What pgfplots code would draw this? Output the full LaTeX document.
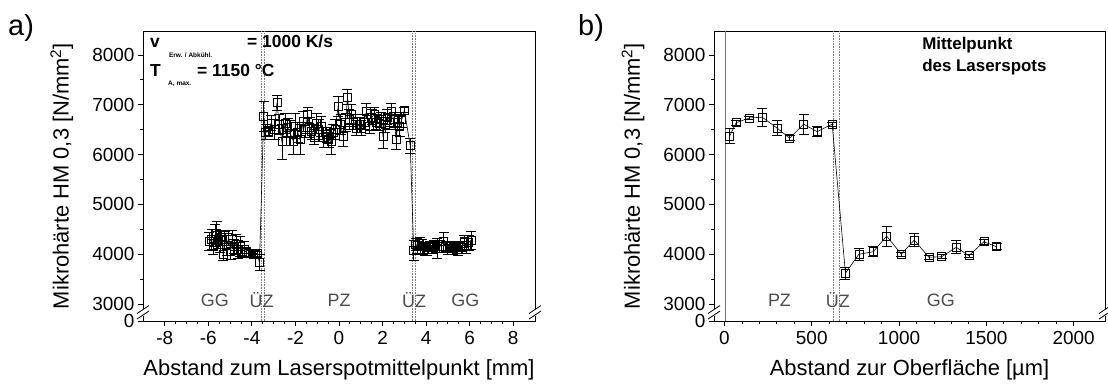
\documentclass[border=0pt]{standalone}
\usepackage{fontspec}
\setmainfont{Liberation Sans}
\usepackage{pgfplots}
\pgfplotsset{compat=1.18}
\usepackage{pgfplotstable}

\pgfplotstableread{
x y e
-5.95 4250 180
-5.85 4300 200
-5.78 4150 150
-5.70 4380 220
-5.62 4420 230
-5.55 4280 170
-5.47 4200 160
-5.40 4330 150
-5.32 4000 120
-5.25 4290 170
-5.15 4180 200
-5.06 4330 150
-4.98 4050 160
-4.90 4300 170
-4.82 4150 140
-4.73 4200 200
-4.65 4100 180
-4.55 4150 200
-4.45 4060 120
-4.35 4100 150
-4.25 4030 100
-4.15 4010 80
-4.05 4020 60
-3.95 4000 70
-3.85 4020 60
-3.75 4010 50
-3.65 3830 160
-3.46 6760 300
-3.36 6450 150
-3.26 6460 100
-3.11 6630 150
-2.96 6500 200
-2.85 7040 150
-2.74 6600 200
-2.62 6260 350
-2.47 6630 200
-2.36 6550 180
-2.24 6430 250
-2.09 6260 250
-2.01 6570 250
-1.90 6450 200
-1.79 6300 300
-1.64 6670 200
-1.54 6500 150
-1.44 6800 150
-1.35 6550 200
-1.26 6460 150
-1.14 6350 150
-1.03 6630 200
-0.93 6500 200
-0.83 6570 200
-0.70 6350 200
-0.57 6400 150
-0.47 6300 150
-0.37 6260 250
-0.28 6450 150
-0.19 6500 200
-0.04 6960 200
0.08 6600 200
0.19 6370 200
0.30 6650 180
0.39 7150 150
0.48 6700 200
0.57 6800 200
0.68 6650 150
0.80 6530 150
0.92 6600 150
1.03 6530 150
1.15 6650 150
1.26 6870 150
1.41 6570 150
1.50 6750 150
1.61 6800 150
1.72 6650 150
1.84 6630 150
1.93 6700 150
2.02 6370 250
2.11 6600 150
2.21 6750 150
2.30 6650 150
2.40 6870 150
2.52 6700 150
2.63 6300 200
2.70 6650 150
2.78 6570 200
2.88 6700 150
3.00 6890 50
3.27 6180 150
3.43 4085 200
3.52 4200 120
3.59 4170 150
3.70 4220 120
3.82 4150 150
3.93 4100 120
4.05 4090 120
4.16 4150 100
4.27 4130 120
4.38 4180 100
4.50 4110 200
4.62 4150 120
4.80 4250 180
4.90 4160 100
4.99 4110 120
5.10 4150 100
5.22 4120 120
5.33 4160 100
5.45 4100 120
5.55 4150 100
5.65 4130 120
5.75 4250 120
5.83 4170 150
5.95 4230 150
6.06 4280 180
}\dataA

\pgfplotstableread{
x y e
29 6370 150
67 6640 50
143 6735 30
216 6750 180
302 6530 150
373 6330 50
453 6610 200
531 6460 100
617 6610 40
693 3620 120
770 4000 120
852 4050 100
929 4365 200
1013 4000 40
1087 4285 130
1171 3940 40
1244 3950 40
1328 4140 130
1400 3970 30
1486 4250 50
1559 4150 60
}\dataB

\tikzset{
  zonelab/.style={font=\fontsize{18}{20}\selectfont, text=black!70},
  vdot/.style={densely dotted, black!50, line width=0.6bp},
  anno/.style={anchor=base west, inner sep=0pt, font=\fontsize{17.5}{20}\selectfont\bfseries},
  annosub/.style={anchor=base west, inner sep=0pt, font=\fontsize{6.5}{8}\selectfont\bfseries},
}
\pgfplotsset{
  common/.style={
    scale only axis, height=290bp, anchor=north west,
    axis line style={black, line width=0.8bp},
    tick align=outside, xtick pos=bottom, ytick pos=left,
    major tick length=5bp, minor tick length=3bp,
    every tick/.style={black, line width=0.8bp},
    ymin=2660, ymax=8480,
    ytick={2660,3000,4000,5000,6000,7000,8000},
    yticklabels={0,3000,4000,5000,6000,7000,8000},
    minor ytick={3500,4500,5500,6500,7500},
    ticklabel style={font=\fontsize{19}{21}\selectfont},
    xticklabel style={yshift=-2bp},
    label style={font=\fontsize{22}{24}\selectfont},
    /pgf/number format/assume math mode=true,
    /pgf/number format/1000 sep={},
    ylabel={Mikrohärte HM 0,3 [N/mm\textsuperscript{2}]},
    ylabel style={at={(axis description cs:-0.207,0.5)}, anchor=center},
    xlabel style={at={(axis description cs:0.5,-0.168)}, anchor=center},
    clip=false,
  },
  dataplot/.style={black, line width=0.6bp, mark=square, mark size=4bp,
    mark options={solid, fill=white, line width=0.7bp},
    error bars/.cd, y dir=both, y explicit,
    error bar style={line width=0.7bp},
    error mark options={rotate=90, mark size=5bp, line width=0.7bp}},
}

\begin{document}
\begin{tikzpicture}
\useasboundingbox (0,0) rectangle (1108bp,-385bp);
\node[anchor=north west, font=\fontsize{29}{31}\selectfont, inner sep=0pt] at (8bp,-14bp) {a)};
\node[anchor=north west, font=\fontsize{29}{31}\selectfont, inner sep=0pt] at (578bp,-14bp) {b)};

% ---------- panel a ----------
\begin{axis}[common, at={(143bp,-31bp)}, width=392bp,
  xmin=-9, xmax=9,
  xtick={-8,-6,...,8}, minor x tick num=3,
  xlabel={Abstand zum Laserspotmittelpunkt [mm]}]
\draw[vdot] (axis cs:-3.58,2660) -- (axis cs:-3.58,8480);
\draw[vdot] (axis cs:-3.45,2660) -- (axis cs:-3.45,8480);
\draw[vdot] (axis cs:3.36,2660) -- (axis cs:3.36,8480);
\draw[vdot] (axis cs:3.49,2660) -- (axis cs:3.49,8480);
\addplot[dataplot] table[x=x, y=y, y error=e] {\dataA};
\node[zonelab] at (axis cs:-5.7,3080) {GG};
\node[zonelab] at (axis cs:-3.55,3080) {ÜZ};
\node[zonelab] at (axis cs:0,3080) {PZ};
\node[zonelab] at (axis cs:3.45,3080) {ÜZ};
\node[zonelab] at (axis cs:5.8,3080) {GG};
\node[anno] at (axis cs:-8.68,8139) {v};
\node[annosub] at (axis cs:-7.81,7958) {Erw. / Abkühl.};
\node[anno] at (axis cs:-4.225,8139) {= 1000 K/s};
\node[anno] at (axis cs:-8.68,7557) {T};
\node[annosub] at (axis cs:-7.85,7396) {A, max.};
\node[anno] at (axis cs:-6.52,7557) {= 1150 °C};
% axis breaks
\fill[white] ([xshift=-3bp]axis cs:-9,2770) rectangle ([xshift=3bp]axis cs:-9,2900);
\fill[white] ([xshift=-3bp]axis cs:9,2770) rectangle ([xshift=3bp]axis cs:9,2900);
\draw[line width=0.8bp] ([xshift=-6bp]axis cs:-9,2700) -- ([xshift=6bp]axis cs:-9,2860);
\draw[line width=0.8bp] ([xshift=-6bp]axis cs:-9,2810) -- ([xshift=6bp]axis cs:-9,2970);
\draw[line width=0.8bp] ([xshift=-6bp]axis cs:9,2700) -- ([xshift=6bp]axis cs:9,2860);
\draw[line width=0.8bp] ([xshift=-6bp]axis cs:9,2810) -- ([xshift=6bp]axis cs:9,2970);
\end{axis}

% ---------- panel b ----------
\begin{axis}[common, at={(714bp,-31bp)}, width=391bp,
  xmin=-60, xmax=2180,
  xtick={0,500,...,2000}, minor x tick num=4,
  xlabel={Abstand zur Oberfläche [µm]}]
\draw[black!55, line width=0.8bp] (axis cs:5,2660) -- (axis cs:5,8480);
\draw[vdot] (axis cs:625,2660) -- (axis cs:625,8480);
\draw[vdot] (axis cs:655,2660) -- (axis cs:655,8480);
\addplot[dataplot] table[x=x, y=y, y error=e] {\dataB};
\node[zonelab] at (axis cs:315,3080) {PZ};
\node[zonelab] at (axis cs:650,3080) {ÜZ};
\node[zonelab] at (axis cs:1240,3080) {GG};
\node[anchor=base west, inner sep=0pt, font=\fontsize{17}{20}\selectfont\bfseries] at (axis cs:1132,8099) {Mittelpunkt};
\node[anchor=base west, inner sep=0pt, font=\fontsize{17}{20}\selectfont\bfseries] at (axis cs:1132,7658) {des Laserspots};
% axis breaks
\fill[white] ([xshift=-3bp]axis cs:-60,2770) rectangle ([xshift=3bp]axis cs:-60,2900);
\fill[white] ([xshift=-3bp]axis cs:2180,2770) rectangle ([xshift=3bp]axis cs:2180,2900);
\draw[line width=0.8bp] ([xshift=-6bp]axis cs:-60,2700) -- ([xshift=6bp]axis cs:-60,2860);
\draw[line width=0.8bp] ([xshift=-6bp]axis cs:-60,2810) -- ([xshift=6bp]axis cs:-60,2970);
\draw[line width=0.8bp] ([xshift=-6bp]axis cs:2180,2700) -- ([xshift=6bp]axis cs:2180,2860);
\draw[line width=0.8bp] ([xshift=-6bp]axis cs:2180,2810) -- ([xshift=6bp]axis cs:2180,2970);
\end{axis}
\end{tikzpicture}
\end{document}
